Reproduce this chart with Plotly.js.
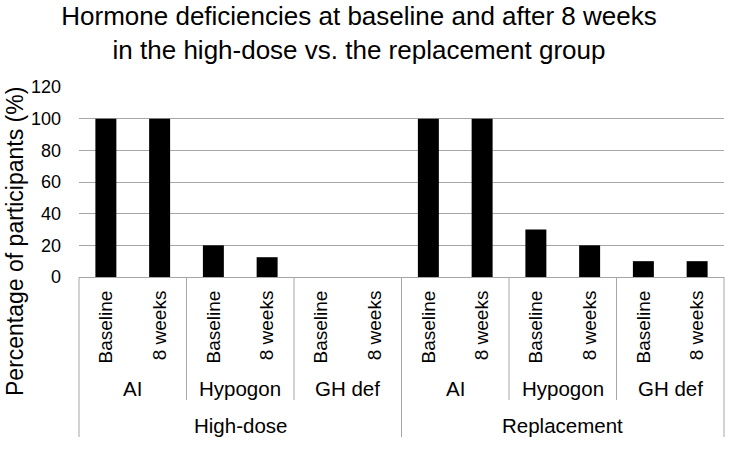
<!DOCTYPE html>
<html>
<head>
<meta charset="utf-8">
<script src="https://cdn.plot.ly/plotly-3.0.1.min.js"></script>
<style>html,body{margin:0;padding:0;background:#fff;}#chart{width:750px;height:451px;}</style>
</head>
<body>
<div id="chart"></div>
<script>
// ---- data ----
const groups = ['High-dose', 'Replacement'];
const hormones = ['AI', 'Hypogon', 'GH def'];
const timepoints = ['Baseline', '8 weeks'];
const highDose = [100, 100, 20, 12.5, 0, 0];
const replacement = [100, 100, 30, 20, 10, 10];
const yTicks = [0, 20, 40, 60, 80, 100, 120];

// ---- build categories ----
const seriesByGroup = [highDose, replacement];
const xKeys = [], yVals = [], tickText = [];
groups.forEach((g, gi) => {
  hormones.forEach((h, hi) => {
    timepoints.forEach((t, ti) => {
      xKeys.push(g + '|' + h + '|' + t);
      tickText.push(t);
      yVals.push(seriesByGroup[gi][hi * timepoints.length + ti]);
    });
  });
});
const N = xKeys.length;
const perHormone = timepoints.length;
const perGroup = hormones.length * perHormone;

const FONT = 'Liberation Sans, Arial, Helvetica, sans-serif';
const GRID = '#a6a6a6';
const plotTop = 87, plotBottom = 277;

// divider lines
const shapes = [];
for (let k = 0; k <= N; k += perHormone) {
  const isGroupEdge = (k % perGroup === 0);
  shapes.push({
    type: 'line', xref: 'x domain', yref: 'paper',
    x0: k / N, x1: k / N, y0: 0,
    y1: isGroupEdge ? -(437 - plotBottom) / (plotBottom - plotTop) : -(400 - plotBottom) / (plotBottom - plotTop),
    line: {color: GRID, width: 1}
  });
}

// level-2 and level-3 labels
const annotations = [];
groups.forEach((g, gi) => {
  hormones.forEach((h, hi) => {
    annotations.push({
      text: h, xref: 'x', yref: 'paper',
      x: gi * perGroup + hi * perHormone + (perHormone - 1) / 2, y: 0,
      yshift: -(388 - plotBottom), yanchor: 'middle', xanchor: 'center',
      showarrow: false, font: {family: FONT, size: 20.5, color: '#000'}
    });
  });
  annotations.push({
    text: g, xref: 'x', yref: 'paper',
    x: gi * perGroup + (perGroup - 1) / 2, y: 0,
    yshift: -(425 - plotBottom), yanchor: 'middle', xanchor: 'center',
    showarrow: false, font: {family: FONT, size: 20.5, color: '#000'}
  });
});
annotations.push({
  text: 'Percentage of participants (%)', textangle: -90,
  xref: 'paper', yref: 'paper', x: 0, y: 0, xshift: -64, yshift: plotBottom - 242,
  xanchor: 'center', yanchor: 'middle', showarrow: false,
  font: {family: FONT, size: 23, color: '#000'}
});

const trace = {
  type: 'bar', x: xKeys, y: yVals,
  marker: {color: '#000000', line: {width: 0}},
  hoverinfo: 'skip'
};

const layout = {
  width: 750, height: 451,
  margin: {l: 79, r: 26, t: plotTop, b: 451 - plotBottom, pad: 0},
  paper_bgcolor: '#ffffff', plot_bgcolor: '#ffffff',
  font: {family: FONT, color: '#000'},
  showlegend: false,
  bargap: 0.61,
  title: {
    text: 'Hormone deficiencies at baseline and after 8 weeks<br>in the high-dose vs. the replacement group',
    x: 359 / 750, xref: 'container', xanchor: 'center',
    y: 1 - 25 / 451, yref: 'container', yanchor: 'middle',
    font: {family: FONT, size: 26, color: '#000'}
  },
  xaxis: {
    type: 'category', tickvals: xKeys, ticktext: tickText,
    tickangle: -90, ticks: '', showgrid: false, zeroline: false,
    showline: true, linecolor: GRID, linewidth: 1,
    tickfont: {family: FONT, size: 19, color: '#000'},
    ticklabelstandoff: 5, fixedrange: true
  },
  yaxis: {
    range: [0, 120], tickvals: yTicks, ticks: '',
    showgrid: true, gridcolor: GRID, gridwidth: 1, zeroline: false,
    showline: false,
    tickfont: {family: FONT, size: 18, color: '#000'},
    ticklabelstandoff: 17, fixedrange: true
  },
  shapes: shapes,
  annotations: annotations
};

Plotly.newPlot('chart', [trace], layout, {staticPlot: true, displayModeBar: false});
</script>
</body>
</html>
